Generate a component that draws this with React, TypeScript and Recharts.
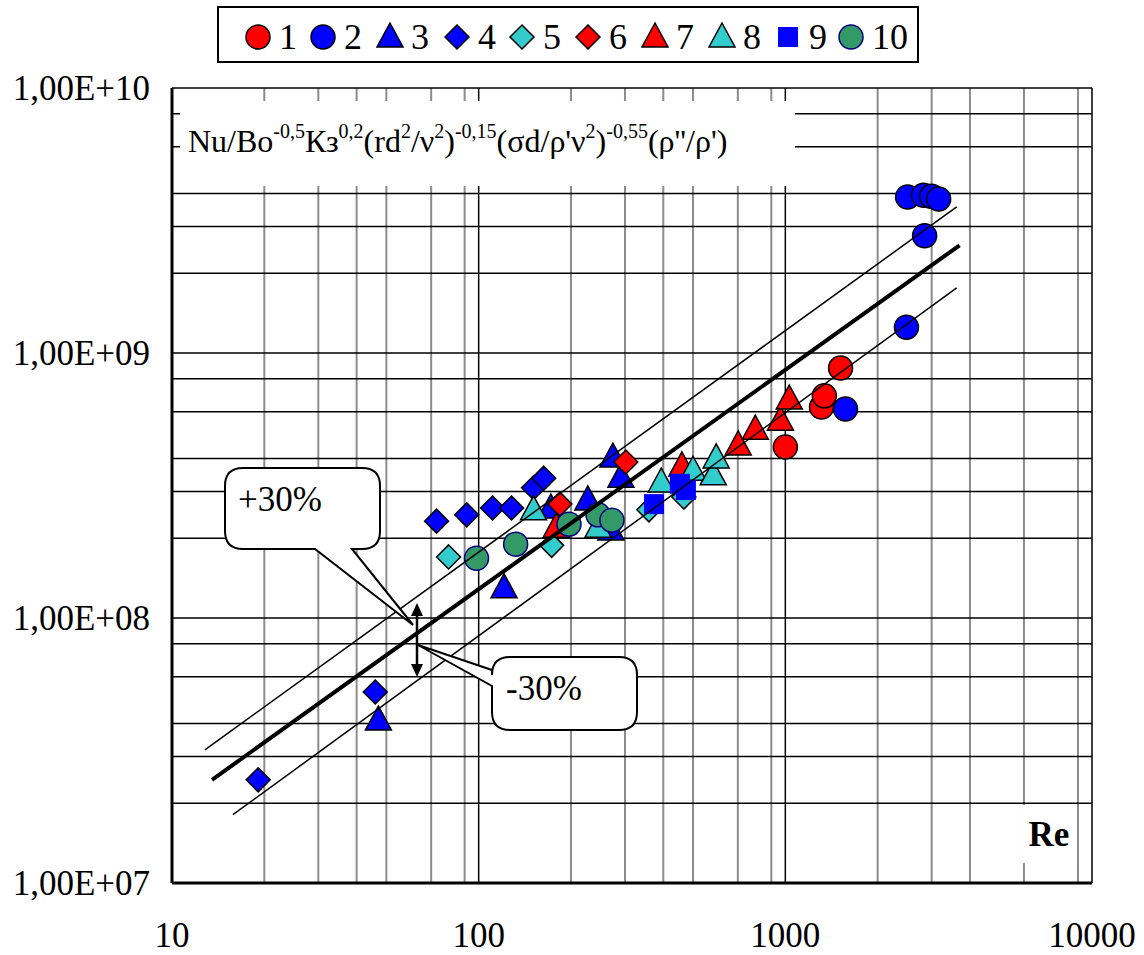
import React from "react";
import { ScatterChart, Scatter, XAxis, YAxis, CartesianGrid } from "recharts";

const FONT = '"Liberation Serif", "Times New Roman", serif';

const xTicks = [10, 100, 1000, 10000];
const xTickLabels = ["10", "100", "1000", "10000"];
const yTicks = [1e7, 1e8, 1e9, 1e10];
const yTickLabels = ["1,00E+07", "1,00E+08", "1,00E+09", "1,00E+10"];

// Re values and the complex on the y axis, one pair of arrays per series
const re1 = [1000, 1312, 1340, 1514];
const val1 = [4.42e8, 6.25e8, 6.89e8, 8.77e8];
const re2 = [1571, 2483, 2845, 2505, 2822, 2998, 3162];
const val2 = [6.15e8, 1.25e9, 2.77e9, 3.88e9, 3.94e9, 3.9e9, 3.81e9];
const re3 = [47.1, 121, 172, 227, 274, 291, 270];
const val3 = [4.12e7, 1.3e8, 2.6e8, 2.79e8, 4.05e8, 3.4e8, 2.15e8];
const re4 = [19.1, 46, 72.9, 91.4, 111, 128, 151, 163];
const val4 = [2.45e7, 5.26e7, 2.32e8, 2.45e8, 2.6e8, 2.6e8, 3.1e8, 3.37e8];
const re5 = [79.8, 173, 359, 467];
const val5 = [1.7e8, 1.88e8, 2.56e8, 2.86e8];
const re6 = [184, 302];
const val6 = [2.69e8, 3.88e8];
const re7 = [179, 460, 702, 798, 964, 1030];
const val7 = [2.2e8, 3.75e8, 4.5e8, 5.16e8, 5.58e8, 6.7e8];
const re8 = [151, 245, 394, 500, 582, 595];
const val8 = [2.56e8, 2.2e8, 3.26e8, 3.61e8, 3.47e8, 4.02e8];
const re9 = [373, 453, 474];
const val9 = [2.69e8, 3.21e8, 3.04e8];
const re10 = [98.4, 132, 197, 245, 272];
const val10 = [1.68e8, 1.9e8, 2.26e8, 2.45e8, 2.34e8];

// fitted line and the +/-30% band (end points)
const fitRe = [13.5, 3700];
const fitVal = [2.45e7, 2.55e9];
const upperRe = [12.8, 3620];
const upperVal = [3.18e7, 3.56e9];
const lowerRe = [15.8, 3620];
const lowerVal = [1.81e7, 1.76e9];

const pts = (xs: number[], ys: number[]) => xs.map((x, i) => ({ x, y: ys[i] }));

type Kind = "circle" | "triangle" | "diamond" | "square";

const series: { name: string; kind: Kind; fill: string; stroke: string; data: { x: number; y: number }[] }[] = [
  { name: "1", kind: "circle", fill: "#FF0000", stroke: "#000", data: pts(re1, val1) },
  { name: "2", kind: "circle", fill: "#0000FF", stroke: "#000", data: pts(re2, val2) },
  { name: "3", kind: "triangle", fill: "#0000FF", stroke: "#000", data: pts(re3, val3) },
  { name: "4", kind: "diamond", fill: "#0000FF", stroke: "#000", data: pts(re4, val4) },
  { name: "5", kind: "diamond", fill: "#33CCCC", stroke: "#000", data: pts(re5, val5) },
  { name: "6", kind: "diamond", fill: "#FF0000", stroke: "#000", data: pts(re6, val6) },
  { name: "7", kind: "triangle", fill: "#FF0000", stroke: "#000", data: pts(re7, val7) },
  { name: "8", kind: "triangle", fill: "#33CCCC", stroke: "#000", data: pts(re8, val8) },
  { name: "9", kind: "square", fill: "#0000FF", stroke: "none", data: pts(re9, val9) },
  { name: "10", kind: "circle", fill: "#339966", stroke: "#000080", data: pts(re10, val10) },
];

const hGrid: number[] = [];
for (const d of [1e7, 1e8, 1e9]) for (let k = 2; k <= 10; k++) hGrid.push(d * k);
const vMinor: number[] = [];
for (const d of [10, 100, 1000]) for (let k = 2; k <= 9; k++) vMinor.push(d * k);
const vMajor = [100, 1000, 10000];

function marker(kind: Kind, fill: string, stroke: string, cx: number, cy: number) {
  const sw = 1.5;
  if (kind === "circle") return <circle cx={cx} cy={cy} r={12} fill={fill} stroke={stroke} strokeWidth={sw} />;
  if (kind === "triangle")
    return (
      <polygon
        points={`${cx},${cy - 14} ${cx + 13},${cy + 10} ${cx - 13},${cy + 10}`}
        fill={fill}
        stroke={stroke}
        strokeWidth={sw}
      />
    );
  if (kind === "diamond")
    return (
      <polygon
        points={`${cx},${cy - 12} ${cx + 12},${cy} ${cx},${cy + 12} ${cx - 12},${cy}`}
        fill={fill}
        stroke={stroke}
        strokeWidth={sw}
      />
    );
  return <rect x={cx - 10} y={cy - 10} width={20} height={20} fill={fill} />;
}

const YTick = ({ y, payload }: any) => {
  const i = yTicks.indexOf(payload.value);
  return (
    <text x={150} y={y} dy={12} textAnchor="end" fontFamily={FONT} fontSize={35} fill="#000">
      {yTickLabels[i]}
    </text>
  );
};

const XTick = ({ x, y, payload }: any) => {
  const i = xTicks.indexOf(payload.value);
  return (
    <text x={x} y={y} dy={56} textAnchor="middle" fontFamily={FONT} fontSize={35} fill="#000">
      {xTickLabels[i]}
    </text>
  );
};

const Overlay = () => {
  const legendX = [258, 323, 390, 457, 522, 588, 655, 722, 788, 851];
  return (
    <svg
      width={1144}
      height={955}
      style={{ position: "absolute", left: 0, top: 0, pointerEvents: "none" }}
      fontFamily={FONT}
    >
      {/* legend */}
      <rect x={218} y={7} width={700} height={55} fill="#fff" stroke="#000" strokeWidth={2} />
      {series.map((s, i) => (
        <g key={s.name}>
          {marker(s.kind, s.fill, s.stroke, legendX[i], 37)}
          <text x={legendX[i] + 21} y={49} fontSize={36}>
            {s.name}
          </text>
        </g>
      ))}

      {/* formula box */}
      <rect x={180} y={101} width={615} height={85} fill="#fff" />
      <text x={188} y={152} fontSize={32}>
        Nu/Bo
        <tspan fontSize={20} dy={-14}>-0,5</tspan>
        <tspan dy={14}>Кз</tspan>
        <tspan fontSize={20} dy={-14}>0,2</tspan>
        <tspan dy={14}>(rd</tspan>
        <tspan fontSize={20} dy={-14}>2</tspan>
        <tspan dy={14}>/ν</tspan>
        <tspan fontSize={20} dy={-14}>2</tspan>
        <tspan dy={14}>)</tspan>
        <tspan fontSize={20} dy={-14}>-0,15</tspan>
        <tspan dy={14}>(σd/ρ'ν</tspan>
        <tspan fontSize={20} dy={-14}>2</tspan>
        <tspan dy={14}>)</tspan>
        <tspan fontSize={20} dy={-14}>-0,55</tspan>
        <tspan dy={14}>(ρ''/ρ')</tspan>
      </text>

      {/* Re label */}
      <rect x={1023} y={805} width={54} height={58} fill="#fff" />
      <text x={1049} y={846} fontSize={35} fontWeight="bold" textAnchor="middle">
        Re
      </text>

      {/* +30% callout */}
      <path
        d="M243,468 H362 Q380,468 380,486 V531 Q380,549 362,549 H352 L413,625 L315,549 H243 Q225,549 225,531 V486 Q225,468 243,468 Z"
        fill="#fff"
        stroke="#000"
        strokeWidth={2}
      />
      <text x={238} y={511} fontSize={35}>
        +30%
      </text>

      {/* -30% callout */}
      <path
        d="M510,657 H619 Q637,657 637,675 V712 Q637,730 619,730 H510 Q492,730 492,712 V686 L418,645 L492,670 V675 Q492,657 510,657 Z"
        fill="#fff"
        stroke="#000"
        strokeWidth={2}
      />
      <text x={506} y={700} fontSize={35}>
        -30%
      </text>

      {/* double arrow */}
      <line x1={417} y1={612} x2={417} y2={668} stroke="#000" strokeWidth={2.5} />
      <polygon points="417,603 411,616 423,616" fill="#000" />
      <polygon points="417,677 411,664 423,664" fill="#000" />
    </svg>
  );
};

export default function App() {
  return (
    <div style={{ position: "absolute", left: 0, top: 0, width: 1144, height: 955, background: "#fff" }}>
      <ScatterChart width={1144} height={955} margin={{ top: 88, right: 52, bottom: 0, left: 0 }}>
        <CartesianGrid horizontal={false} verticalValues={vMinor} stroke="#8c8c8c" strokeWidth={2} />
        <CartesianGrid vertical={false} horizontalValues={hGrid} stroke="#000" strokeWidth={1.5} />
        <CartesianGrid horizontal={false} verticalValues={vMajor} stroke="#000" strokeWidth={1.5} />
        <XAxis
          dataKey="x"
          type="number"
          scale="log"
          domain={[10, 10000]}
          ticks={xTicks}
          allowDataOverflow
          height={72}
          axisLine={{ stroke: "#000", strokeWidth: 3 }}
          tickLine={false}
          tick={<XTick />}
        />
        <YAxis
          dataKey="y"
          type="number"
          scale="log"
          domain={[1e7, 1e10]}
          ticks={yTicks}
          allowDataOverflow
          width={172}
          axisLine={{ stroke: "#000", strokeWidth: 3 }}
          tickLine={false}
          tick={<YTick />}
        />
        {series.map((s) => (
          <Scatter
            key={s.name}
            name={s.name}
            data={s.data}
            isAnimationActive={false}
            shape={(p: any) => marker(s.kind, s.fill, s.stroke, p.cx, p.cy)}
          />
        ))}
        <Scatter
          data={pts(upperRe, upperVal)}
          line={{ stroke: "#000", strokeWidth: 1.5 }}
          shape={() => <g />}
          isAnimationActive={false}
        />
        <Scatter
          data={pts(lowerRe, lowerVal)}
          line={{ stroke: "#000", strokeWidth: 1.5 }}
          shape={() => <g />}
          isAnimationActive={false}
        />
        <Scatter
          data={pts(fitRe, fitVal)}
          line={{ stroke: "#000", strokeWidth: 4 }}
          shape={() => <g />}
          isAnimationActive={false}
        />
      </ScatterChart>
      <Overlay />
    </div>
  );
}
